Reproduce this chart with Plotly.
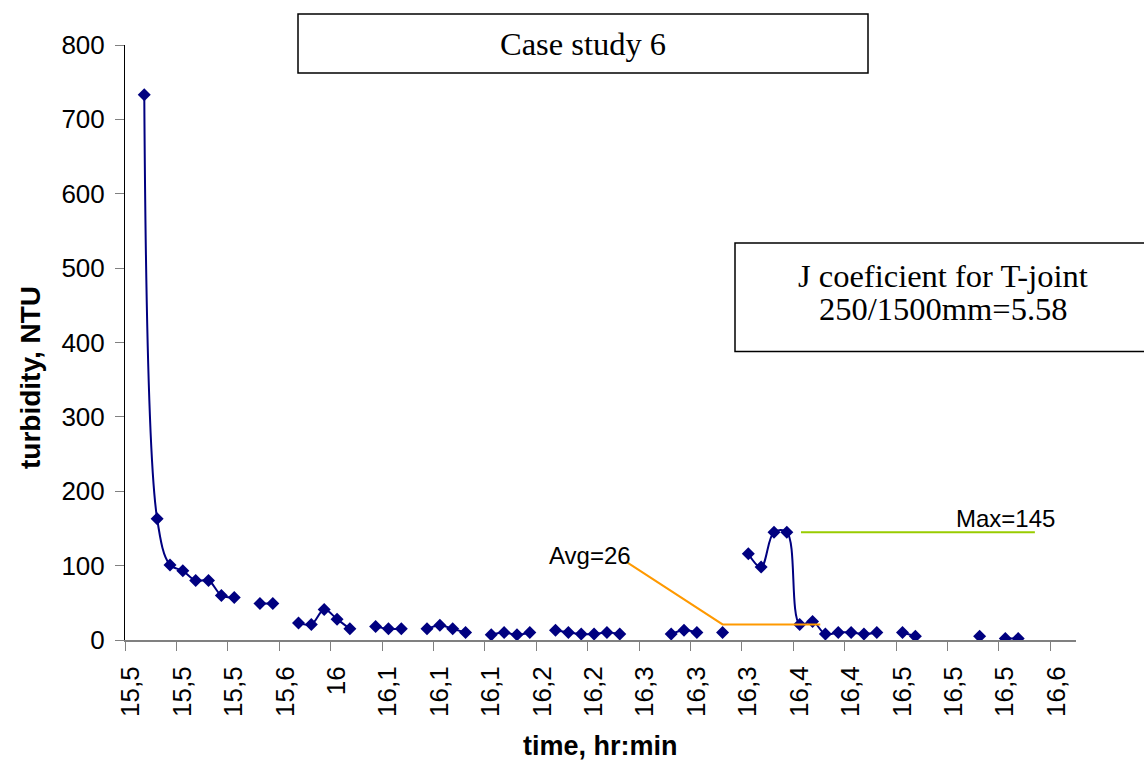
import plotly.graph_objects as go

# ---- data (category index -> turbidity, None = no reading) ----
category_index = list(range(74))
turbidity = [None, 733, 163, 101, 93, 80, 80, 60, 57, None,
             49, 49, None, 23, 21, 41, 28, 15, None, 18,
             15, 15, None, 15, 20, 15, 10, None, 7, 10,
             7, 10, None, 13, 10, 8, 8, 10, 8, None,
             None, None, 8, 13, 10, None, 10, None, 116, 98,
             145, 145, 21, 25, 8, 10, 10, 8, 10, None,
             10, 5, None, None, None, None, 5, None, 2, 2,
             None, None, None, None]
assert len(turbidity) == len(category_index)

tick_categories = list(range(0, 73, 4))
tick_labels = ["15,5", "15,5", "15,5", "15,6", "16", "16,1", "16,1", "16,1", "16,2", "16,2",
               "16,3", "16,3", "16,3", "16,4", "16,4", "16,5", "16,5", "16,5", "16,6"]

avg_line_x = [38.6, 46.0, 53.6]
avg_line_y = [104, 21, 21]
max_line_x = [52.1, 70.3]
max_line_y = [145, 145]
avg_label = "Avg=26"
max_label = "Max=145"

W, H = 1144, 764
L, R, T, B = 125, 68, 45, 124
pw, ph = W - L - R, H - T - B

def px(xp):
    return (xp - L) / pw

def py(yp):
    return (H - B - yp) / ph

fig = go.Figure()
fig.add_trace(go.Scatter(
    x=category_index, y=turbidity, mode="lines+markers",
    line=dict(color="#000080", width=2, shape="spline", smoothing=1),
    marker=dict(symbol="diamond", size=10, color="#000080"),
    connectgaps=False, showlegend=False))
fig.add_trace(go.Scatter(x=avg_line_x, y=avg_line_y, mode="lines",
                         line=dict(color="#FF9900", width=2), showlegend=False))
fig.add_trace(go.Scatter(x=max_line_x, y=max_line_y, mode="lines",
                         line=dict(color="#99CC00", width=2), showlegend=False))

sans = "Liberation Sans, Arial, sans-serif"
serif = "Liberation Serif, Times New Roman, serif"

fig.add_annotation(x=39.05, y=114, xref="x", yref="y", text=avg_label, showarrow=False,
                   xanchor="right", yanchor="middle", font=dict(family=sans, size=24, color="black"))
fig.add_annotation(x=72.05, y=163, xref="x", yref="y", text=max_label, showarrow=False,
                   xanchor="right", yanchor="middle", font=dict(family=sans, size=24, color="black"))

# title box
fig.add_shape(type="rect", xref="paper", yref="paper", x0=px(298), x1=px(868), y0=py(73), y1=py(14),
              line=dict(color="black", width=1.5), fillcolor="white")
fig.add_annotation(x=px(583), y=py(44), xref="paper", yref="paper", text="Case study 6", showarrow=False,
                   xanchor="center", yanchor="middle", font=dict(family=serif, size=32.5, color="black"))
# J coefficient box
fig.add_shape(type="rect", xref="paper", yref="paper", x0=px(735), x1=px(1150), y0=py(351.5), y1=py(243),
              line=dict(color="black", width=1.5), fillcolor="white")
fig.add_annotation(x=px(943), y=py(276), xref="paper", yref="paper", text="J coeficient for T-joint",
                   showarrow=False, xanchor="center", yanchor="middle",
                   font=dict(family=serif, size=32.5, color="black"))
fig.add_annotation(x=px(943), y=py(309), xref="paper", yref="paper", text="250/1500mm=5.58",
                   showarrow=False, xanchor="center", yanchor="middle",
                   font=dict(family=serif, size=32.5, color="black"))

# axis titles
fig.add_annotation(x=px(30), y=py(378), xref="paper", yref="paper", text="<b>turbidity, NTU</b>",
                   showarrow=False, textangle=-90, xanchor="center", yanchor="middle",
                   font=dict(family=sans, size=28, color="black"))
fig.add_annotation(x=0.5, y=py(746), xref="paper", yref="paper", text="<b>time, hr:min</b>",
                   showarrow=False, xanchor="center", yanchor="middle",
                   font=dict(family=sans, size=27, color="black"))

fig.update_layout(
    width=W, height=H, margin=dict(l=L, r=R, t=T, b=B),
    paper_bgcolor="white", plot_bgcolor="white",
    xaxis=dict(range=[-0.5, 73.5], tickmode="array",
               tickvals=[c - 0.5 for c in tick_categories], ticktext=tick_labels,
               tickangle=-90, ticklabelshift=6, ticklabelstandoff=5,
               ticks="outside", ticklen=9, tickcolor="#808080",
               showline=True, linecolor="#808080", linewidth=2, showgrid=False, zeroline=False,
               tickfont=dict(family=sans, size=26, color="black")),
    yaxis=dict(range=[0, 800], tickmode="array", tickvals=list(range(0, 801, 100)),
               ticks="outside", ticklen=9, tickcolor="#808080",
               showline=True, linecolor="black", linewidth=1, showgrid=False, zeroline=False,
               ticklabelstandoff=5,
               tickfont=dict(family=sans, size=26, color="black")),
)

fig.write_html("out.html", config={"displayModeBar": False},
               post_script="document.body.style.margin='0px';")
